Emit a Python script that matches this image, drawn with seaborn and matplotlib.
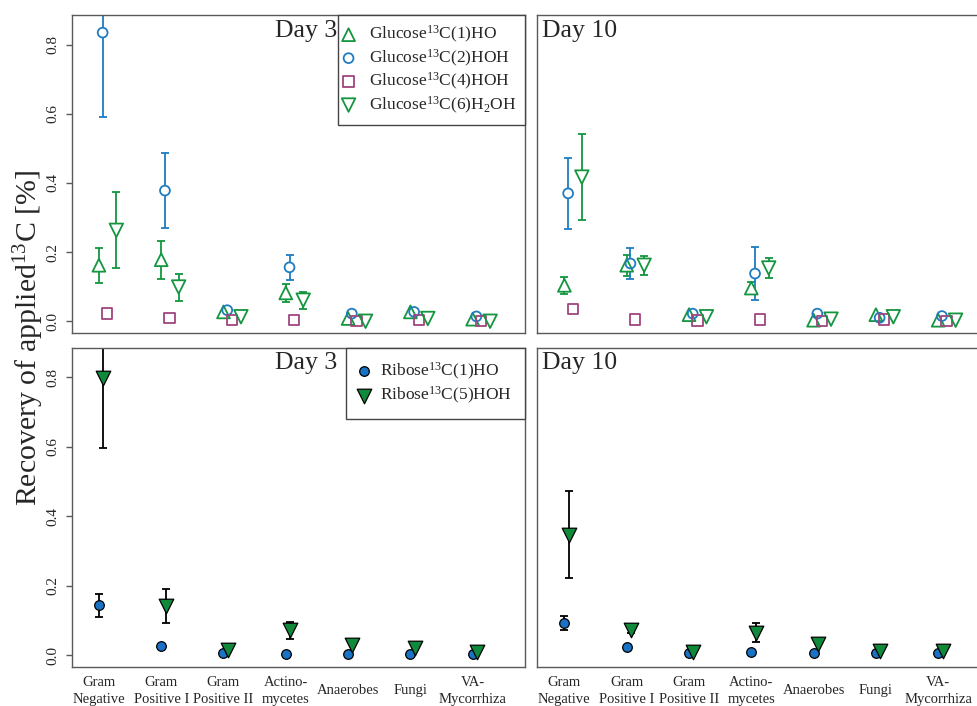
import numpy as np
import pandas as pd
import seaborn as sns
import matplotlib.pyplot as plt

# categories on the x axis
categories = ['Gram\nNegative', 'Gram\nPositive I', 'Gram\nPositive II', 'Actino-\nmycetes',
              'Anaerobes', 'Fungi', 'VA-\nMycorrhiza']

# glucose labels, day 3 (mean, error)
glc1_d3 = [0.162, 0.178, 0.027, 0.082, 0.008, 0.027, 0.006]
glc1_d3_err = [0.050, 0.055, 0, 0.027, 0, 0, 0]
glc2_d3 = [0.835, 0.378, 0.032, 0.156, 0.022, 0.027, 0.014]
glc2_d3_err = [0.243, 0.108, 0, 0.037, 0, 0, 0]
glc4_d3 = [0.022, 0.010, 0.003, 0.003, 0.000, 0.003, 0.000]
glc4_d3_err = [0, 0, 0, 0, 0, 0, 0]
glc6_d3 = [0.263, 0.099, 0.013, 0.061, 0.000, 0.008, 0.000]
glc6_d3_err = [0.110, 0.039, 0, 0.025, 0, 0, 0]

# glucose labels, day 10
glc1_d10 = [0.104, 0.162, 0.019, 0.096, 0.003, 0.019, 0.003]
glc1_d10_err = [0.024, 0.030, 0, 0.017, 0, 0, 0]
glc2_d10 = [0.370, 0.167, 0.022, 0.138, 0.022, 0.010, 0.015]
glc2_d10_err = [0.102, 0.045, 0, 0.076, 0, 0, 0]
glc4_d10 = [0.035, 0.005, 0.002, 0.005, 0.000, 0.005, 0.000]
glc4_d10_err = [0, 0, 0, 0, 0, 0, 0]
glc6_d10 = [0.417, 0.162, 0.013, 0.154, 0.006, 0.013, 0.003]
glc6_d10_err = [0.124, 0.027, 0, 0.028, 0, 0, 0]

# ribose labels, day 3 and day 10
rib1_d3 = [0.144, 0.026, 0.007, 0.003, 0.002, 0.003, 0.003]
rib1_d3_err = [0.033, 0, 0, 0, 0, 0, 0]
rib5_d3 = [0.798, 0.142, 0.014, 0.072, 0.029, 0.022, 0.008]
rib5_d3_err = [0.200, 0.050, 0, 0.025, 0, 0, 0]
rib1_d10 = [0.093, 0.024, 0.007, 0.008, 0.005, 0.007, 0.007]
rib1_d10_err = [0.020, 0, 0, 0, 0, 0, 0]
rib5_d10 = [0.347, 0.072, 0.008, 0.065, 0.032, 0.012, 0.012]
rib5_d10_err = [0.126, 0.008, 0, 0.028, 0, 0, 0]

GREEN = '#13963f'
BLUE = '#1f7cc0'
PURPLE = '#a0457e'
FGREEN = '#108a3a'
FBLUE = '#1a72c4'

sns.set_theme(style='white')
plt.rcParams['font.family'] = ['Liberation Serif', 'DejaVu Serif']
plt.rcParams['mathtext.fontset'] = 'custom'
plt.rcParams['mathtext.rm'] = 'Liberation Serif'
plt.rcParams['mathtext.it'] = 'Liberation Serif:italic'
plt.rcParams['mathtext.bf'] = 'Liberation Serif:bold'


def plot_series(ax, vals, errs, offset, marker, size, color, label, filled=False, ecolor=None):
    """Draw one series as seaborn points with error bars underneath."""
    df = pd.DataFrame({'x': np.arange(len(vals)) + offset, 'y': vals, 'err': errs})
    eb = df[df['err'] > 0]
    if len(eb):
        ax.errorbar(eb['x'], eb['y'], yerr=eb['err'], fmt='none',
                    ecolor=ecolor or color, elinewidth=1.3, capsize=3.2, capthick=1.3, zorder=2)
    if filled:
        sns.scatterplot(data=df, x='x', y='y', ax=ax, marker=marker, s=size, color=color,
                        edgecolor='black', linewidth=0.9, label=label, zorder=3)
    else:
        # white body hides the error bar inside the open symbol
        sns.scatterplot(data=df, x='x', y='y', ax=ax, marker=marker, s=size, color='white',
                        edgecolor='none', linewidth=0, zorder=2.5)
        sns.scatterplot(data=df, x='x', y='y', ax=ax, marker=marker, s=size, color=color,
                        facecolor='none', edgecolor=color, linewidth=1.3, label=label, zorder=3)


W, H = 978, 706
fig = plt.figure(figsize=(W / 100, H / 100), dpi=100)


def rect(x0, y0, x1, y1):
    return [x0 / W, 1 - y1 / H, (x1 - x0) / W, (y1 - y0) / H]


ax_tl = fig.add_axes(rect(71.5, 15, 525, 333))
ax_tr = fig.add_axes(rect(537, 15, 990.5, 333))
ax_bl = fig.add_axes(rect(71.5, 347.5, 525, 667))
ax_br = fig.add_axes(rect(537, 347.5, 990.5, 667))

glc_lab = ['Glucose$^{\\mathrm{13}}$C(1)HO', 'Glucose$^{\\mathrm{13}}$C(2)HOH',
           'Glucose$^{\\mathrm{13}}$C(4)HOH', 'Glucose$^{\\mathrm{13}}$C(6)H$_{\\mathrm{2}}$OH']
rib_lab = ['Ribose$^{\\mathrm{13}}$C(1)HO', 'Ribose$^{\\mathrm{13}}$C(5)HOH']

for ax, d in [(ax_tl, 3), (ax_tr, 10)]:
    s1, e1, s2, e2, s4, e4, s6, e6 = {
        3: (glc1_d3, glc1_d3_err, glc2_d3, glc2_d3_err, glc4_d3, glc4_d3_err, glc6_d3, glc6_d3_err),
        10: (glc1_d10, glc1_d10_err, glc2_d10, glc2_d10_err, glc4_d10, glc4_d10_err, glc6_d10, glc6_d10_err),
    }[d]
    plot_series(ax, s1, e1, 0.0, '^', 85, GREEN, glc_lab[0])
    plot_series(ax, s2, e2, 0.06, 'o', 50, BLUE, glc_lab[1])
    plot_series(ax, s4, e4, 0.135, 's', 55, PURPLE, glc_lab[2])
    plot_series(ax, s6, e6, 0.28, 'v', 95, GREEN, glc_lab[3])

for ax, d in [(ax_bl, 3), (ax_br, 10)]:
    r1, q1, r5, q5 = {
        3: (rib1_d3, rib1_d3_err, rib5_d3, rib5_d3_err),
        10: (rib1_d10, rib1_d10_err, rib5_d10, rib5_d10_err),
    }[d]
    plot_series(ax, r1, q1, 0.0, 'o', 48, FBLUE, rib_lab[0], filled=True, ecolor='black')
    plot_series(ax, r5, q5, 0.07, 'v', 110, FGREEN, rib_lab[1], filled=True, ecolor='black')

for ax in [ax_tl, ax_tr, ax_bl, ax_br]:
    ax.set_xlim(-0.44, 6.84)
    ax.set_ylim(-0.034, 0.886)
    ax.set_xlabel('')
    ax.set_ylabel('')
    for sp in ax.spines.values():
        sp.set_color('#5a5a5a')
        sp.set_linewidth(1.0)
    ax.set_xticks(range(len(categories)))
    ax.set_yticks([0.0, 0.2, 0.4, 0.6, 0.8])

for ax in [ax_tl, ax_bl]:
    ax.set_yticklabels(['0.0', '0.2', '0.4', '0.6', '0.8'])
    ax.tick_params(axis='y', left=True, length=4, width=1.0, color='#5a5a5a', pad=5,
                   labelsize=11, labelrotation=90)
    for lbl in ax.get_yticklabels():
        lbl.set_va('center')
for ax in [ax_tr, ax_br]:
    ax.tick_params(axis='y', left=False, labelleft=False)

for ax in [ax_tl, ax_tr]:
    ax.tick_params(axis='x', bottom=False, labelbottom=False)
for ax in [ax_bl, ax_br]:
    ax.set_xticklabels(categories)
    ax.tick_params(axis='x', bottom=False, length=0, pad=17, labelsize=10.5)
    for lbl in ax.get_xticklabels():
        lbl.set_va('center')
        lbl.set_linespacing(1.4)

# panel titles
for ax in [ax_tl, ax_bl]:
    ax.text(0.587, 0.985, 'Day 3', transform=ax.transAxes, ha='right', va='top', fontsize=18.5)
for ax in [ax_tr, ax_br]:
    ax.text(0.012, 0.985, 'Day 10', transform=ax.transAxes, ha='left', va='top', fontsize=18.5)

legend_kw = dict(loc='upper right', borderaxespad=0, fancybox=False, framealpha=1,
                 edgecolor='#444444', fontsize=12.5)
leg = ax_tl.legend(handlelength=0.2, handletextpad=1.06, borderpad=0.52, labelspacing=0.135,
                   **legend_kw)
leg.get_frame().set_linewidth(1.0)
leg = ax_bl.legend(handlelength=0.5, handletextpad=0.68, borderpad=0.75, labelspacing=0.2,
                   **legend_kw)
leg.get_frame().set_linewidth(1.0)
for ax in [ax_tr, ax_br]:
    if ax.get_legend() is not None:
        ax.get_legend().remove()

fig.text(29 / W, 1 - 338 / H, 'Recovery of applied$^{\\mathrm{13}}$C [%]', rotation=90,
         ha='center', va='center', fontsize=21.5)

fig.savefig('out.png', dpi=100)
